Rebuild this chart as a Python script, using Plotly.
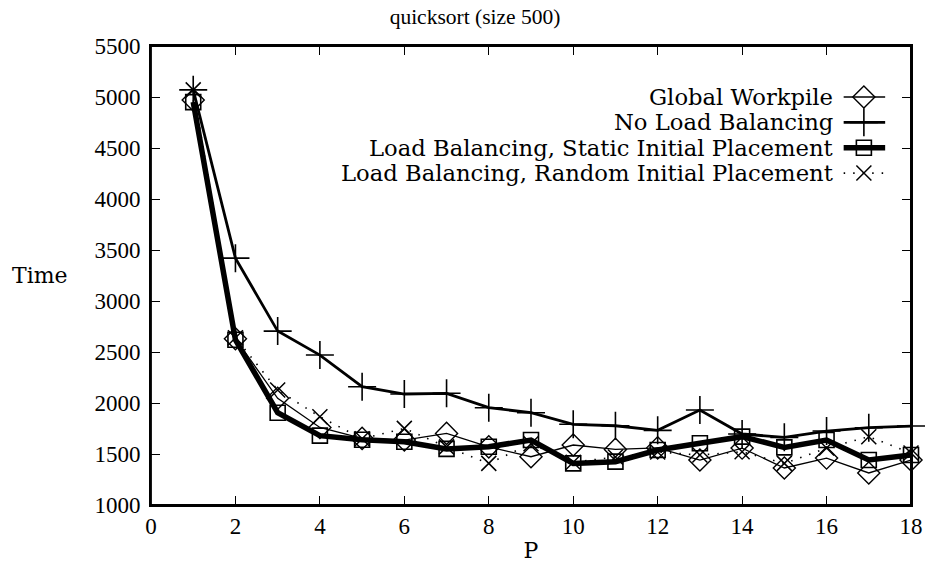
import plotly.graph_objects as go

P = list(range(1, 19))
global_workpile = [4970, 2630, 2046, 1760, 1653, 1637, 1702, 1570, 1473, 1588,
                   1545, 1560, 1441, 1558, 1363, 1460, 1314, 1441]
no_load_balancing = [5070, 3420, 2705, 2470, 2160, 2088, 2095, 1954, 1905, 1791,
                     1777, 1732, 1931, 1696, 1663, 1725, 1758, 1774]
static_placement = [4950, 2620, 1905, 1680, 1640, 1620, 1550, 1571, 1637, 1408,
                    1425, 1539, 1605, 1670, 1565, 1637, 1441, 1490]
random_placement = [5070, 2640, 2127, 1865, 1650, 1751, 1570, 1408, 1600, 1420,
                    1470, 1520, 1490, 1522, 1408, 1558, 1670, 1510]

series_names = ["Global Workpile", "No Load Balancing",
                "Load Balancing, Static Initial Placement",
                "Load Balancing, Random Initial Placement"]
x_ticks = list(range(0, 19, 2))
y_ticks = list(range(1000, 5501, 500))

FONT = "Liberation Serif"
WIDE = "DejaVu Serif"
BLACK = "#000000"

styles = [
    dict(line=dict(color=BLACK, width=1.3),
         marker=dict(symbol="diamond-open", size=17, color=BLACK, line=dict(width=1.4, color=BLACK))),
    dict(line=dict(color=BLACK, width=2.8),
         marker=dict(symbol="cross-thin-open", size=20, color=BLACK, line=dict(width=1.6, color=BLACK))),
    dict(line=dict(color=BLACK, width=5.5),
         marker=dict(symbol="square-open", size=15, color=BLACK, line=dict(width=1.6, color=BLACK))),
    dict(line=dict(color=BLACK, width=1.6, dash="1.5px,8px"),
         marker=dict(symbol="x-thin-open", size=15, color=BLACK, line=dict(width=1.5, color=BLACK))),
]
data = [global_workpile, no_load_balancing, static_placement, random_placement]

fig = go.Figure()
for name, vals, st in zip(series_names, data, styles):
    fig.add_trace(go.Scatter(x=P, y=vals, mode="lines+markers", name=name,
                             line=st["line"], marker=st["marker"], showlegend=False,
                             cliponaxis=False))

# gnuplot-style key: text right-aligned, sample on the right (separate small subplot)
key_dom_x = [0.903, 0.973]
key_dom_y = [0.6955, 0.9165]
key_rows = [3.5, 2.5, 1.5, 0.5]
key_text_x = 0.900
for name, st, kr in zip(series_names, styles, key_rows):
    py = key_dom_y[0] + (key_dom_y[1] - key_dom_y[0]) * kr / 4.0
    fig.add_annotation(x=key_text_x, y=py, xref="paper", yref="paper", text=name,
                       showarrow=False, xanchor="right", yanchor="middle",
                       font=dict(family=WIDE, size=22.7, color=BLACK))
    fig.add_trace(go.Scatter(x=[0.12, 0.9], y=[kr, kr], xaxis="x2", yaxis="y2",
                             mode="lines", line=st["line"], showlegend=False,
                             hoverinfo="skip", cliponaxis=False))
    fig.add_trace(go.Scatter(x=[0.5], y=[kr], xaxis="x2", yaxis="y2",
                             mode="markers", marker=st["marker"], showlegend=False,
                             hoverinfo="skip", cliponaxis=False))

axis_common = dict(showgrid=False, zeroline=False, showline=True, linecolor=BLACK,
                   linewidth=1.6, mirror="ticks", ticks="inside", ticklen=9,
                   tickwidth=1.4, tickcolor=BLACK, automargin=False,
                   tickfont=dict(family=FONT, size=23, color=BLACK))

fig.update_layout(
    width=926, height=576,
    margin=dict(l=151, r=15, t=46, b=71),
    paper_bgcolor="white", plot_bgcolor="rgba(0,0,0,0)",
    title=dict(text="quicksort (size 500)", x=0.513, xref="container", xanchor="center",
               y=0.972, yref="container", yanchor="middle",
               font=dict(family=FONT, size=21.5, color=BLACK)),
    xaxis=dict(range=[0, 18], tickvals=x_ticks, ticktext=[str(v) for v in x_ticks],
               domain=[0, 1],
               title=dict(text="P", standoff=4, font=dict(family=WIDE, size=22, color=BLACK)),
               **axis_common),
    yaxis=dict(range=[1000, 5500], tickvals=y_ticks, ticktext=[str(v) for v in y_ticks],
               domain=[0, 1], ticklabelstandoff=4, **axis_common),
    xaxis2=dict(domain=key_dom_x, anchor="y2", range=[0, 1], visible=False),
    yaxis2=dict(domain=key_dom_y, anchor="x2", range=[0, 4], visible=False),
    showlegend=False,
)
# plot frame (gnuplot border), drawn explicitly on all four sides
fig.add_shape(type="rect", xref="paper", yref="paper", x0=0, y0=0, x1=1, y1=1,
              line=dict(color=BLACK, width=1.8), fillcolor="rgba(0,0,0,0)", layer="above")
fig.add_shape(type="line", xref="paper", yref="paper", x0=1, y0=0, x1=1, y1=1,
              line=dict(color=BLACK, width=1.8), layer="above")
fig.add_annotation(x=-0.1855, y=0.50, xref="paper", yref="paper", text="Time",
                   showarrow=False, xanchor="left", yanchor="middle",
                   font=dict(family=WIDE, size=22, color=BLACK))

fig.write_html("out.html", config={"displayModeBar": False},
               post_script=("document.body.style.margin='0';"
                            "document.body.style.overflow='hidden';"
                            "document.documentElement.style.overflow='hidden';"))
